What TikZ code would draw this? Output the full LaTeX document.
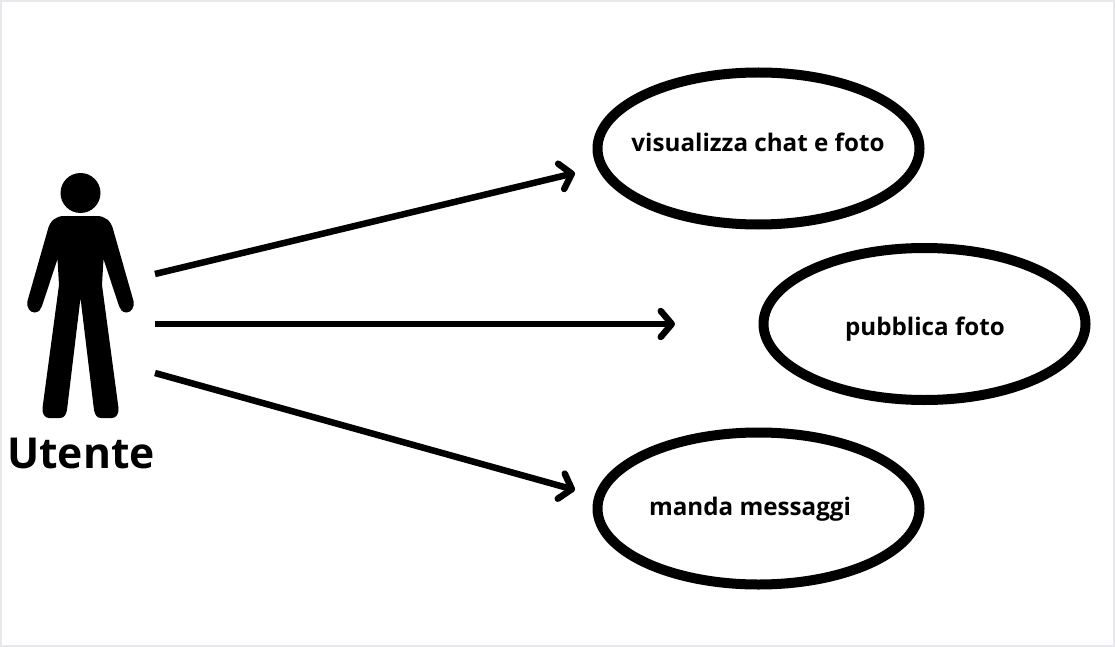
\documentclass[tikz,border=0pt]{standalone}
\usepackage{fontspec}
\setmainfont{Open Sans}
\usetikzlibrary{arrows.meta,shapes.geometric}
\definecolor{ink}{HTML}{000000}
\definecolor{edge}{HTML}{E8E8EC}
\tikzset{
  usecase/.style={ellipse, draw=ink, fill=white, line width=10pt, minimum width=322pt,
    minimum height=152pt, inner sep=0pt},
  uclab/.style={font=\fontsize{24.2}{24.2}\selectfont\bfseries, text=ink, inner sep=0pt},
  actorlab/.style={font=\fontsize{42.6}{42.6}\selectfont\bfseries, text=ink, inner sep=0pt},
  flow/.style={-{Straight Barb[round,length=11pt,width=26pt]}, line width=6.5pt, color=ink},
}
\begin{document}
\begin{tikzpicture}[x=1pt,y=-1pt]
  \useasboundingbox (0,0) rectangle (1115,647);
  \draw[edge,line width=2pt] (1,1) rectangle (1114,646);
  % actor
  \fill[ink] (80.5,193) circle (20);
  \fill[ink] (64,216) -- (97,216) .. controls (105,216) and (111,221) .. (113,229) -- (133.5,301)
    .. controls (135,307) and (131,312.5) .. (126.5,312.5) .. controls (122,312.5) and (120,309) .. (119,306)
    -- (103.5,259) -- (102,285) -- (118.5,408) .. controls (119,414) and (116,418) .. (112,418)
    -- (101,418) .. controls (97,418) and (95,415) .. (94,410) -- (80.5,298) -- (67,410)
    .. controls (66,415) and (64,418) .. (60,418) -- (49,418) .. controls (45,418) and (42,414) .. (42.5,408)
    -- (59,285) -- (57.5,259) -- (42,306) .. controls (41,309) and (39,312.5) .. (34.5,312.5)
    .. controls (30,312.5) and (26,307) .. (27.5,301) -- (48,229) .. controls (50,221) and (56,216) .. (64,216) -- cycle;
  \node[actorlab] (utente) at (81,453.5) {Utente};
  % use cases
  \node[usecase] (chat) at (758.5,148.5) {};
  \node[usecase] (foto) at (924.5,324) {};
  \node[usecase] (msg) at (758.5,508.5) {};
  \node[uclab] (chatlab) at (758,142.5) {visualizza chat e foto};
  \node[uclab] (fotolab) at (925,329) {pubblica foto};
  \node[uclab] (msglab) at (750,509) {manda messaggi};
  % arrows
  \coordinate (out1) at (155,274);
  \coordinate (out2) at (155,324);
  \coordinate (out3) at (155,373);
  \coordinate (in1) at (575,173);
  \coordinate (in2) at (675,324);
  \coordinate (in3) at (575,490);
  \draw[flow] (out1) -- (in1);
  \draw[flow] (out2) -- (in2);
  \draw[flow] (out3) -- (in3);
\end{tikzpicture}
\end{document}
